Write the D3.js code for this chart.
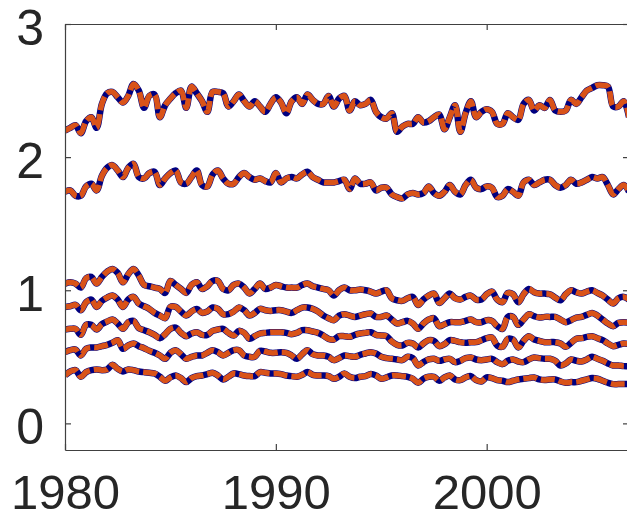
<!DOCTYPE html>
<html>
<head>
<meta charset="utf-8">
<script src="https://cdn.jsdelivr.net/npm/d3@7"></script>
<style>
  html, body { margin: 0; padding: 0; background: #fff; }
  svg { display: block; }
</style>
</head>
<body>
<div id="chart"></div>
<script>
// Quarterly series, 1980 Q1 .. 2006 Q4 (108 values each), one row per year
var startYear = 1980;
var quartersPerYear = 4;

var s1 = [
  2.20, 2.22, 2.24, 2.18,  2.27, 2.30, 2.22, 2.40,  2.48, 2.49, 2.45, 2.41,
  2.46, 2.55, 2.50, 2.37,  2.46, 2.47, 2.30, 2.39,  2.44, 2.48, 2.50, 2.37,
  2.53, 2.48, 2.42, 2.34,  2.49, 2.49, 2.48, 2.38,  2.42, 2.47, 2.42, 2.38,
  2.42, 2.38, 2.34, 2.40,  2.45, 2.41, 2.33, 2.42,  2.45, 2.40, 2.47, 2.43,
  2.40, 2.40, 2.46, 2.38,  2.44, 2.46, 2.35, 2.42,  2.39, 2.40, 2.43, 2.34,
  2.30, 2.29, 2.33, 2.19,  2.23, 2.25, 2.25, 2.30,  2.26, 2.27, 2.30, 2.32,
  2.21, 2.30, 2.39, 2.19,  2.33, 2.42, 2.30, 2.34,  2.36, 2.34, 2.25, 2.25,
  2.33, 2.30, 2.28, 2.40,  2.43, 2.35, 2.39, 2.37,  2.43, 2.35, 2.34, 2.35,
  2.43, 2.40, 2.45, 2.50,  2.52, 2.54, 2.54, 2.53,  2.38, 2.38, 2.42, 2.30
];
var s2 = [
  1.74, 1.75, 1.71, 1.71,  1.78, 1.80, 1.75, 1.86,  1.92, 1.94, 1.90, 1.85,
  1.92, 1.95, 1.85, 1.84,  1.88, 1.89, 1.79, 1.84,  1.88, 1.90, 1.81, 1.80,
  1.85, 1.90, 1.79, 1.78,  1.87, 1.90, 1.84, 1.80,  1.80, 1.85, 1.88, 1.85,
  1.83, 1.84, 1.82, 1.81,  1.88, 1.81, 1.84, 1.85,  1.84, 1.87, 1.89, 1.85,
  1.83, 1.81, 1.81, 1.81,  1.82, 1.83, 1.76, 1.84,  1.80, 1.80, 1.81, 1.75,
  1.77, 1.77, 1.72, 1.70,  1.69, 1.72, 1.73, 1.72,  1.73, 1.78, 1.73, 1.71,
  1.74, 1.79, 1.74, 1.72,  1.79, 1.83, 1.77, 1.76,  1.78, 1.77, 1.70, 1.71,
  1.76, 1.74, 1.71, 1.81,  1.83, 1.79, 1.81, 1.83,  1.83, 1.79, 1.77, 1.79,
  1.83, 1.80, 1.81, 1.83,  1.85, 1.84, 1.85, 1.79,  1.72, 1.76, 1.79, 1.74
];
var s3 = [
  1.05, 1.06, 1.05, 1.02,  1.09, 1.10, 1.05, 1.10,  1.14, 1.16, 1.13, 1.06,
  1.12, 1.16, 1.11, 1.04,  1.03, 1.02, 1.01, 0.98,  1.07, 1.04, 1.01, 0.98,
  1.04, 1.06, 1.01, 1.03,  1.07, 1.07, 1.01, 1.00,  1.04, 1.05, 1.02, 0.975,
  1.01, 1.05, 1.01, 1.02,  1.04, 1.03, 1.02, 1.02,  1.02, 1.04, 1.05, 1.03,
  1.02, 1.01, 1.00, 0.96,  1.00, 1.02, 1.00, 1.00,  1.005, 1.00, 0.99, 0.975,
  0.99, 1.00, 0.94, 0.925, 0.92, 0.94, 0.95, 0.89,  0.93, 0.96, 0.975, 0.905,
  0.94, 0.975, 0.94, 0.93, 0.95, 0.96, 0.93, 0.93,  0.97, 0.99, 0.93, 0.91,
  0.98, 0.97, 0.91, 0.97,  1.01, 0.985, 0.975, 0.975, 0.97, 0.945, 0.925, 0.97,
  1.00, 0.985, 0.975, 0.99, 1.00, 0.98, 0.96, 0.93, 0.90, 0.94, 0.95, 0.93
];
var s4 = [
  0.875, 0.88, 0.89, 0.85, 0.91, 0.93, 0.875, 0.92, 0.945, 0.96, 0.93, 0.875,
  0.93, 0.95, 0.90, 0.88,  0.86, 0.83, 0.81, 0.79,  0.875, 0.875, 0.84, 0.81,
  0.84, 0.86, 0.83, 0.84,  0.87, 0.86, 0.82, 0.82,  0.84, 0.87, 0.85, 0.81,
  0.83, 0.86, 0.85, 0.845, 0.85, 0.85, 0.84, 0.83,  0.85, 0.87, 0.87, 0.86,
  0.84, 0.81, 0.79, 0.775, 0.81, 0.82, 0.81, 0.80,  0.81, 0.82, 0.825, 0.80,
  0.80, 0.81, 0.78, 0.75,  0.76, 0.77, 0.75, 0.71,  0.75, 0.78, 0.79, 0.73,
  0.745, 0.76, 0.76, 0.76, 0.77, 0.78, 0.76, 0.76,  0.775, 0.77, 0.73, 0.71,
  0.80, 0.80, 0.74, 0.78,  0.82, 0.805, 0.795, 0.80, 0.80, 0.80, 0.78, 0.76,
  0.775, 0.795, 0.80, 0.815, 0.83, 0.81, 0.78, 0.75, 0.73, 0.755, 0.76, 0.755
];
var s5 = [
  0.705, 0.71, 0.71, 0.665, 0.74, 0.74, 0.705, 0.745, 0.765, 0.78, 0.75, 0.71,
  0.76, 0.77, 0.715, 0.70, 0.685, 0.665, 0.64, 0.67, 0.71, 0.72, 0.68, 0.655,
  0.675, 0.685, 0.665, 0.665, 0.695, 0.705, 0.71, 0.68, 0.66, 0.695, 0.68, 0.635,
  0.655, 0.675, 0.68, 0.685, 0.685, 0.685, 0.68, 0.67, 0.68, 0.70, 0.70, 0.69,
  0.68, 0.66, 0.635, 0.63, 0.655, 0.655, 0.65, 0.665, 0.675, 0.68, 0.685, 0.665,
  0.66, 0.655, 0.615, 0.59, 0.585, 0.605, 0.60, 0.57, 0.60, 0.625, 0.62, 0.58,
  0.595, 0.625, 0.62, 0.61, 0.605, 0.61, 0.61, 0.625, 0.64, 0.645, 0.585, 0.575,
  0.635, 0.63, 0.57, 0.62, 0.655, 0.63, 0.62, 0.61, 0.61, 0.61, 0.60, 0.575,
  0.605, 0.635, 0.64, 0.65, 0.655, 0.64, 0.625, 0.60, 0.58, 0.59, 0.60, 0.595
];
var s6 = [
  0.535, 0.55, 0.555, 0.51, 0.56, 0.57, 0.57, 0.58, 0.59, 0.605, 0.625, 0.56,
  0.585, 0.60, 0.58, 0.565, 0.545, 0.53, 0.51, 0.485, 0.53, 0.55, 0.52, 0.485,
  0.50, 0.51, 0.51, 0.53, 0.55, 0.535, 0.51, 0.53, 0.55, 0.55, 0.51, 0.50,
  0.50, 0.545, 0.54, 0.53, 0.53, 0.535, 0.53, 0.51, 0.485, 0.52, 0.55, 0.52,
  0.51, 0.51, 0.50, 0.475, 0.49, 0.51, 0.505, 0.50, 0.515, 0.525, 0.535, 0.525,
  0.50, 0.49, 0.485, 0.48, 0.475, 0.50, 0.49, 0.435, 0.46, 0.48, 0.485, 0.47,
  0.48, 0.485, 0.46, 0.47, 0.49, 0.495, 0.48, 0.475, 0.48, 0.485, 0.46, 0.445,
  0.47, 0.48, 0.465, 0.46, 0.48, 0.495, 0.49, 0.485, 0.485, 0.47, 0.435, 0.45,
  0.48, 0.47, 0.465, 0.48, 0.50, 0.485, 0.47, 0.45, 0.435, 0.435, 0.43, 0.43
];
var s7 = [
  0.36, 0.39, 0.40, 0.35, 0.385, 0.40, 0.405, 0.40, 0.405, 0.44, 0.41, 0.39,
  0.405, 0.40, 0.39, 0.385, 0.38, 0.375, 0.35, 0.32, 0.345, 0.36, 0.34, 0.31,
  0.34, 0.355, 0.36, 0.37, 0.38, 0.36, 0.33, 0.35, 0.375, 0.37, 0.36, 0.355,
  0.355, 0.385, 0.38, 0.375, 0.375, 0.37, 0.36, 0.355, 0.35, 0.365, 0.385, 0.365,
  0.36, 0.36, 0.355, 0.335, 0.35, 0.375, 0.35, 0.34, 0.35, 0.355, 0.37, 0.36,
  0.335, 0.345, 0.36, 0.36, 0.355, 0.35, 0.335, 0.305, 0.335, 0.35, 0.35, 0.32,
  0.345, 0.36, 0.33, 0.325, 0.345, 0.355, 0.325, 0.315, 0.345, 0.34, 0.325, 0.32,
  0.31, 0.32, 0.33, 0.335, 0.34, 0.345, 0.33, 0.325, 0.33, 0.33, 0.315, 0.305,
  0.31, 0.31, 0.32, 0.33, 0.34, 0.335, 0.32, 0.305, 0.295, 0.295, 0.295, 0.295
];

var seriesList = [s1, s2, s3, s4, s5, s6, s7];

var xTicks = [1980, 1990, 2000];
var yTicks = [0, 1, 2, 3];
var xDomain = [1980, 2006.75];
var yDomain = [-0.2, 3];

var width = 627, height = 520;
var margin = { left: 65, top: 24, right: -2, bottom: 70 };
var innerW = width - margin.left - margin.right;
var innerH = height - margin.top - margin.bottom;

var svg = d3.select('#chart').append('svg')
  .attr('width', width)
  .attr('height', height);

var x = d3.scaleLinear().domain(xDomain).range([0, innerW]);
var y = d3.scaleLinear().domain(yDomain).range([innerH, 0]);

var g = svg.append('g').attr('transform', 'translate(' + margin.left + ',' + margin.top + ')');

g.append('clipPath').attr('id', 'plotclip')
  .append('rect').attr('width', innerW).attr('height', innerH);

var line = d3.line()
  .x(function(d, i) { return x(startYear + i / quartersPerYear); })
  .y(function(d) { return y(d); })
  .curve(d3.curveCatmullRom.alpha(0.5));

var lines = g.append('g').attr('clip-path', 'url(#plotclip)');

// solid navy underneath, dashed orange on top
seriesList.forEach(function(s) {
  lines.append('path')
    .datum(s)
    .attr('d', line)
    .attr('fill', 'none')
    .attr('stroke', '#000080')
    .attr('stroke-width', 6.5)
    .attr('stroke-linejoin', 'round');
});
seriesList.forEach(function(s) {
  lines.append('path')
    .datum(s)
    .attr('d', line)
    .attr('fill', 'none')
    .attr('stroke', '#D95319')
    .attr('stroke-width', 5.5)
    .attr('stroke-dasharray', '14,4')
    .attr('stroke-linejoin', 'round');
});

// MATLAB style box with inward ticks
var axisColor = '#404040';
var tickLen = 6;
var fontStack = '"Liberation Sans", Arial, Helvetica, sans-serif';

var axBottom = g.append('g').attr('transform', 'translate(0,' + innerH + ')')
  .call(d3.axisBottom(x).tickValues(xTicks).tickSizeInner(-tickLen).tickSizeOuter(0).tickPadding(24)
    .tickFormat(d3.format('d')));
var axTop = g.append('g')
  .call(d3.axisTop(x).tickValues(xTicks).tickSizeInner(-tickLen).tickSizeOuter(0).tickFormat(''));
var axLeft = g.append('g')
  .call(d3.axisLeft(y).tickValues(yTicks).tickSizeInner(-tickLen).tickSizeOuter(0).tickPadding(21)
    .tickFormat(d3.format('d')));
var axRight = g.append('g').attr('transform', 'translate(' + innerW + ',0)')
  .call(d3.axisRight(y).tickValues(yTicks).tickSizeInner(-tickLen).tickSizeOuter(0).tickFormat(''));

[axBottom, axTop, axLeft, axRight].forEach(function(a) {
  a.select('.domain').attr('stroke', axisColor).attr('stroke-width', 1.2);
  a.selectAll('.tick line').attr('stroke', axisColor).attr('stroke-width', 1.2);
  a.selectAll('.tick text')
    .attr('fill', '#262626')
    .style('font-family', fontStack)
    .style('font-size', '50px');
});
axLeft.selectAll('.tick text').attr('dy', '0.40em');
// a touch smaller so the year labels sit inside the 520px frame
axBottom.selectAll('.tick text').style('font-size', '49px').attr('dy', '0.71em');
</script>
</body>
</html>
